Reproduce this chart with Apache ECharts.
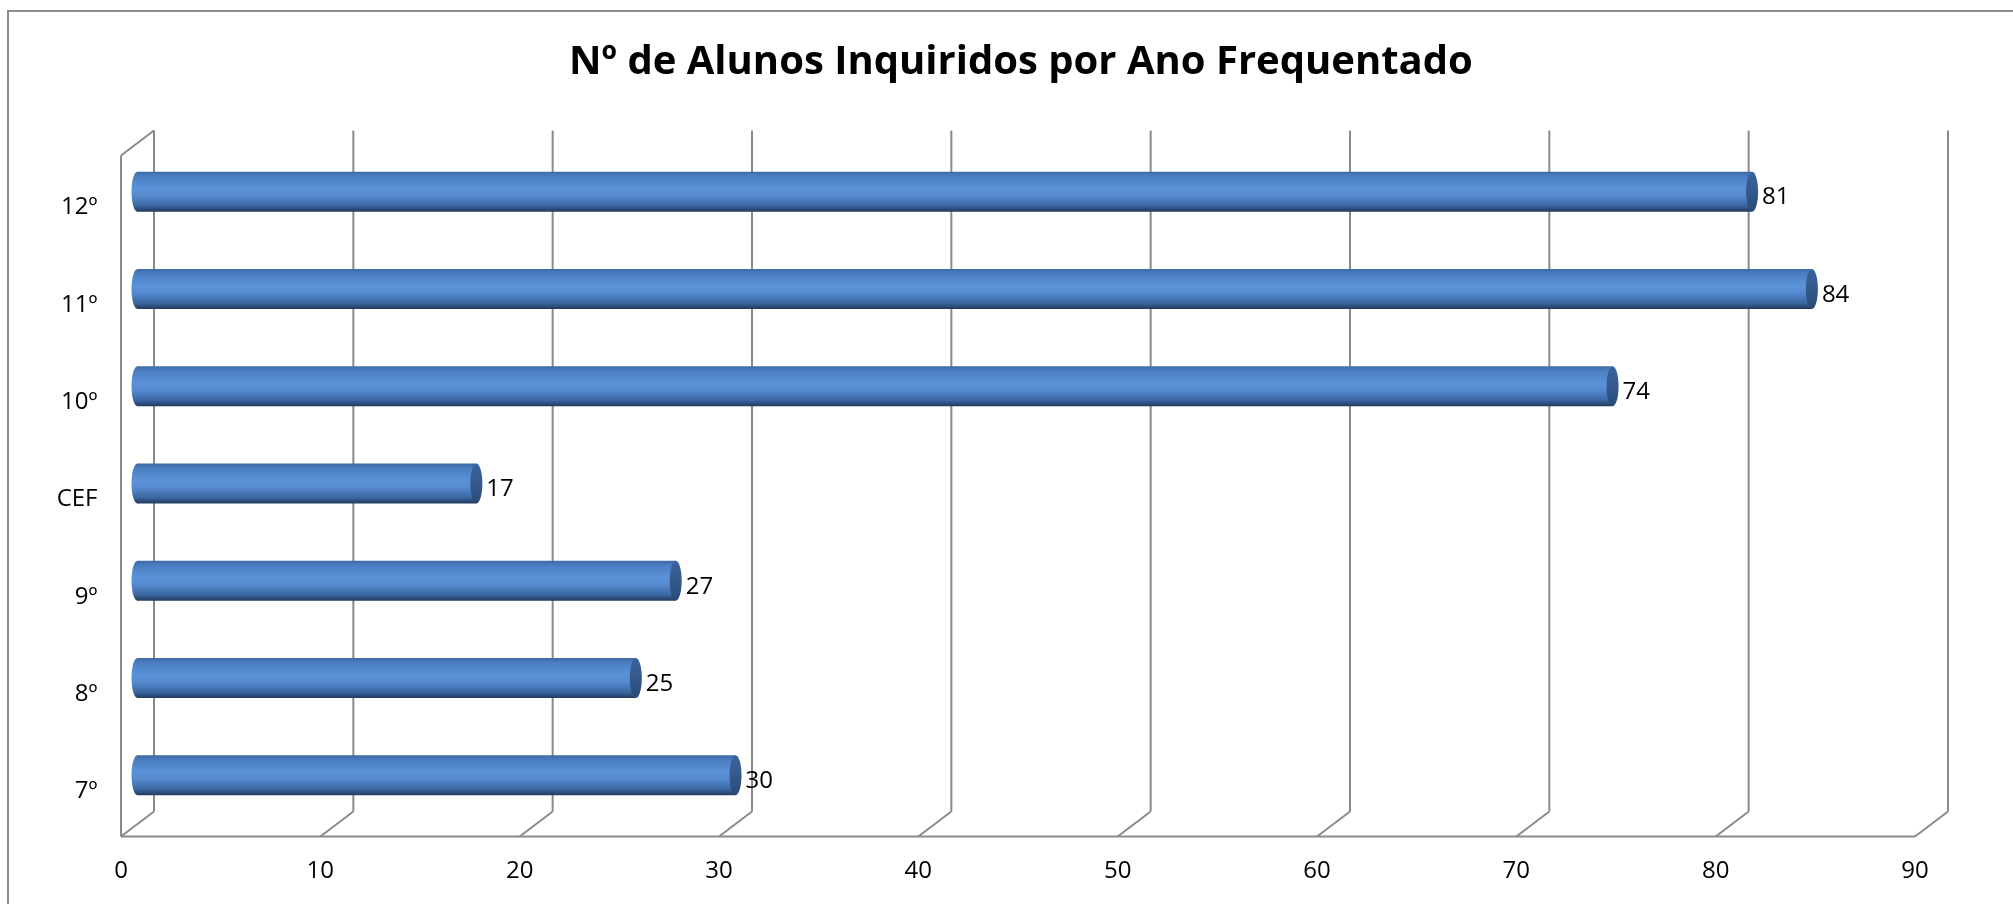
<!DOCTYPE html>
<html>
<head>
<meta charset="utf-8">
<script src="https://cdn.jsdelivr.net/npm/echarts@6/dist/echarts.min.js"></script>
<style>
html,body{margin:0;padding:0;background:#fff;}
#chart{width:2013px;height:904px;}
</style>
</head>
<body>
<div id="chart"></div>
<script>
// ---- data ----
const titleText = 'Nº de Alunos Inquiridos por Ano Frequentado';
const categories = ['7º', '8º', '9º', 'CEF', '10º', '11º', '12º'];
const values = [30, 25, 27, 17, 74, 84, 81];
const xTicks = [0, 10, 20, 30, 40, 50, 60, 70, 80, 90];

// ---- style constants ----
const DX = 16.5, DY = 12.5;      // half depth offset of 3D frame
const BAR_H = 40;
const CAP_RX = 6;
const FRAME_COLOR = '#8a8a8a';
const FONT = '"Open Sans", Lato, sans-serif';

const chart = echarts.init(document.getElementById('chart'), null, {renderer: 'canvas'});

const bodyGrad = () => new echarts.graphic.LinearGradient(0, 0, 0, 1, [
  {offset: 0, color: '#3d6aa6'},
  {offset: 0.12, color: '#4a7ec1'},
  {offset: 0.42, color: '#5b93d8'},
  {offset: 0.6, color: '#558ace'},
  {offset: 0.85, color: '#3b67a2'},
  {offset: 1, color: '#22395c'}
]);
const capGrad = () => new echarts.graphic.LinearGradient(0, 0, 0, 1, [
  {offset: 0, color: '#3a639b'},
  {offset: 0.5, color: '#34598c'},
  {offset: 1, color: '#2a4a76'}
]);

function renderFrame(params, api) {
  const v = api.value(0);
  const cs = params.coordSys;
  const top = cs.y, bottom = cs.y + cs.height;
  const x = api.coord([v, 0])[0];
  const children = [];
  const ls = {stroke: FRAME_COLOR, lineWidth: 2, fill: null};
  children.push({type: 'line', shape: {x1: x + DX, y1: top - DY, x2: x + DX, y2: bottom - DY}, style: ls});
  children.push({type: 'line', shape: {x1: x + DX, y1: bottom - DY, x2: x - DX, y2: bottom + DY}, style: ls});
  if (params.dataIndex === 0) {
    const xe = api.coord([xTicks[xTicks.length - 1], 0])[0];
    children.push({type: 'line', shape: {x1: x - DX, y1: bottom + DY, x2: xe - DX, y2: bottom + DY}, style: ls});
    children.push({type: 'line', shape: {x1: x - DX, y1: top + DY, x2: x - DX, y2: bottom + DY}, style: ls});
    children.push({type: 'line', shape: {x1: x - DX, y1: top + DY, x2: x + DX, y2: top - DY}, style: ls});
  }
  return {type: 'group', children};
}

function renderBar(params, api) {
  const v = api.value(0);
  const c = api.value(1);
  const p0 = api.coord([0, c]);
  const p1 = api.coord([v, c]);
  const yc = p0[1];
  const h = BAR_H;
  return {
    type: 'group',
    children: [
      {type: 'ellipse', shape: {cx: p0[0], cy: yc, rx: CAP_RX, ry: h / 2}, style: {fill: bodyGrad()}},
      {type: 'rect', shape: {x: p0[0], y: yc - h / 2, width: p1[0] - p0[0], height: h}, style: {fill: bodyGrad()}},
      {type: 'ellipse', shape: {cx: p1[0], cy: yc, rx: CAP_RX, ry: h / 2}, style: {fill: capGrad()}},
      {type: 'text', x: p1[0] + 10, y: yc + 6, style: {
        text: String(v), fill: '#000', font: '24px ' + FONT, align: 'left', verticalAlign: 'middle'
      }}
    ]
  };
}

const option = {
  animation: false,
  backgroundColor: '#fff',
  title: {
    text: titleText,
    left: 564,
    top: 38,
    textStyle: {fontFamily: FONT, fontWeight: 'bold', fontSize: 40, color: '#000'}
  },
  graphic: [{
    type: 'rect', shape: {x: 8, y: 11, width: 2100, height: 1000},
    style: {fill: null, stroke: '#8c8c8c', lineWidth: 2}, silent: true
  }],
  grid: {left: 137.5, top: 143, width: 1794, height: 681, containLabel: false},
  xAxis: {
    type: 'value', min: 0, max: 90, interval: 10,
    axisLine: {show: false}, axisTick: {show: false}, splitLine: {show: false},
    axisLabel: {
      fontFamily: FONT, fontSize: 24, color: '#000', margin: 35,
      lineHeight: 24, padding: [0, 33, 0, 0]
    }
  },
  yAxis: {
    type: 'category', data: categories,
    axisLine: {show: false}, axisTick: {show: false}, splitLine: {show: false},
    axisLabel: {
      fontFamily: FONT, fontSize: 24, color: '#000', margin: 40,
      lineHeight: 32, verticalAlign: 'top'
    }
  },
  series: [
    {
      type: 'custom', renderItem: renderFrame, z: 1,
      data: xTicks.map(v => [v]), encode: {x: 0}, silent: true
    },
    {
      type: 'custom', renderItem: renderBar, z: 2,
      data: values.map((v, i) => [v, i]), encode: {x: 0, y: 1}
    }
  ]
};
chart.setOption(option);
</script>
</body>
</html>
